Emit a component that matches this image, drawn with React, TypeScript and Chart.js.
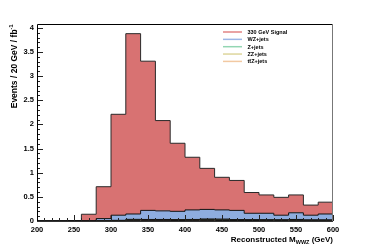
import React, { useEffect, useRef } from "react";
import { Chart, registerables } from "chart.js";

Chart.register(...registerables);

// Histogram bin edges (GeV), 20 GeV bins
const BIN_EDGES = [200, 220, 240, 260, 280, 300, 320, 340, 360, 380, 400, 420, 440, 460, 480, 500, 520, 540, 560, 580, 600];

// Per-bin contributions (events / 20 GeV / fb^-1), stacked bottom -> top: ttZ, ZZ, Z, WZ, signal
const SIGNAL_330 = [0, 0, 0.01, 0.14, 0.66, 2.09, 3.735, 3.09, 1.87, 1.41, 1.09, 0.85, 0.675, 0.62, 0.43, 0.38, 0.37, 0.37, 0.21, 0.245];
const WZ_JETS = [0, 0, 0, 0, 0.045, 0.108, 0.111, 0.188, 0.178, 0.17, 0.198, 0.198, 0.19, 0.192, 0.133, 0.134, 0.095, 0.138, 0.097, 0.122];
const Z_JETS = [0, 0, 0, 0, 0, 0, 0.008, 0.005, 0.005, 0.005, 0.006, 0.015, 0.015, 0.005, 0.005, 0.005, 0.005, 0.014, 0.005, 0.005];
const ZZ_JETS = [0, 0, 0, 0, 0, 0.004, 0.014, 0.015, 0.015, 0.014, 0.014, 0.015, 0.014, 0.013, 0.012, 0.012, 0.011, 0.01, 0.01, 0.01];
const TTZ_JETS = [0, 0, 0, 0, 0.005, 0.008, 0.012, 0.012, 0.012, 0.011, 0.012, 0.012, 0.011, 0.01, 0.01, 0.009, 0.009, 0.008, 0.008, 0.008];

const X_TICKS = [200, 250, 300, 350, 400, 450, 500, 550, 600];
const Y_TICKS = [0, 0.5, 1, 1.5, 2, 2.5, 3, 3.5, 4];

const LEGEND_LABELS = ["330 GeV Signal", "WZ+jets", "Z+jets", "ZZ+jets", "tt\u0304Z+jets"];
const LEGEND_COLORS = ["#e28484", "#9db6e6", "#93d6b3", "#ddd69c", "#f2c9a2"];

const FONT = '"Liberation Sans", Arial, sans-serif';

function toSteps(values: number[]) {
  return BIN_EDGES.map((x, i) => ({ x, y: values[Math.min(i, values.length - 1)] }));
}

const decorPlugin = {
  id: "decor",
  afterDatasetsDraw(chart: any) {
    const { ctx, chartArea } = chart;
    const { left, right, top, bottom } = chartArea;
    const xs = chart.scales.x;
    const ys = chart.scales.y;
    ctx.save();
    // ticks inside frame
    ctx.strokeStyle = "#222";
    ctx.lineWidth = 1;
    ctx.beginPath();
    for (let v = xs.min; v <= xs.max + 1e-6; v += 10) {
      const px = Math.round(xs.getPixelForValue(v)) + 0.5;
      const len = Math.abs(v % 50) < 1e-6 ? 6 : 3;
      ctx.moveTo(px, bottom);
      ctx.lineTo(px, bottom - len);
    }
    for (let k = 0; k <= 40; k++) {
      const v = k * 0.1;
      const py = Math.round(ys.getPixelForValue(v)) + 0.5;
      const len = k % 5 === 0 ? 6 : 3;
      ctx.moveTo(left, py);
      ctx.lineTo(left + len, py);
    }
    ctx.stroke();
    // frame
    ctx.strokeStyle = "#000";
    ctx.beginPath();
    ctx.moveTo(left + 0.5, bottom);
    ctx.lineTo(left + 0.5, top + 0.5);
    ctx.lineTo(right, top + 0.5);
    ctx.stroke();
    ctx.strokeStyle = "#777";
    ctx.beginPath();
    ctx.moveTo(right - 0.5, top);
    ctx.lineTo(right - 0.5, bottom);
    ctx.stroke();
    ctx.strokeStyle = "#333";
    ctx.beginPath();
    ctx.moveTo(left, bottom + 0.5);
    ctx.lineTo(right, bottom + 0.5);
    ctx.stroke();

    // legend
    ctx.font = `bold 5.5px ${FONT}`;
    ctx.textBaseline = "middle";
    ctx.textAlign = "left";
    LEGEND_LABELS.forEach((lab, i) => {
      const y = 32 + i * 7.35;
      ctx.strokeStyle = LEGEND_COLORS[i];
      ctx.lineWidth = 1.5;
      ctx.beginPath();
      ctx.moveTo(223, y);
      ctx.lineTo(242, y);
      ctx.stroke();
      ctx.fillStyle = "#000";
      ctx.fillText(lab, 247.5, y + 0.3);
    });

    // x title with subscript
    ctx.textBaseline = "alphabetic";
    const big = `bold 8px ${FONT}`;
    const small = `bold 5.5px ${FONT}`;
    const p1 = "Reconstructed M";
    const p2 = "WWZ";
    const p3 = " (GeV)";
    ctx.font = big;
    const w1 = ctx.measureText(p1).width;
    const w3 = ctx.measureText(p3).width;
    ctx.font = small;
    const w2 = ctx.measureText(p2).width;
    const x0 = right - (w1 + w2 + w3);
    const yb = 242;
    ctx.fillStyle = "#000";
    ctx.font = big;
    ctx.fillText(p1, x0, yb);
    ctx.font = small;
    ctx.fillText(p2, x0 + w1, yb + 2);
    ctx.font = big;
    ctx.fillText(p3, x0 + w1 + w2, yb);

    // y title with superscript
    const t1 = "Events / 20 GeV / fb";
    const t2 = "-1";
    const bigY = `bold 8.5px ${FONT}`;
    const smallY = `bold 5.5px ${FONT}`;
    ctx.font = bigY;
    const u1 = ctx.measureText(t1).width;
    ctx.font = smallY;
    const u2 = ctx.measureText(t2).width;
    ctx.translate(17, 24.5);
    ctx.rotate(-Math.PI / 2);
    ctx.font = bigY;
    ctx.fillText(t1, -(u1 + u2), 0);
    ctx.font = smallY;
    ctx.fillText(t2, -u2, -4);
    ctx.restore();
  },
};

export default function App() {
  const ref = useRef<HTMLCanvasElement>(null);
  useEffect(() => {
    const canvas = ref.current!;
    const series = [
      { label: "ttZ+jets", data: TTZ_JETS, bg: "#c9a27a", border: "#111" },
      { label: "ZZ+jets", data: ZZ_JETS, bg: "#b9a86e", border: "#111" },
      { label: "Z+jets", data: Z_JETS, bg: "#6ca886", border: "#111" },
      { label: "WZ+jets", data: WZ_JETS, bg: "#8eaddf", border: "#111" },
      { label: "330 GeV Signal", data: SIGNAL_330, bg: "#d87272", border: "#2a2a2a" },
    ];
    const chart = new Chart(canvas, {
      type: "line",
      data: {
        datasets: series.map((s, i) => ({
          label: s.label,
          data: toSteps(s.data),
          stepped: "before",
          fill: i === 0 ? "origin" : "-1",
          backgroundColor: s.bg,
          borderColor: s.border,
          borderWidth: 1,
          pointRadius: 0,
          tension: 0,
        })),
      },
      options: {
        responsive: false,
        animation: false,
        events: [],
        layout: { padding: { top: 24, right: 37, left: 0, bottom: 0 } },
        plugins: {
          legend: { display: false },
          tooltip: { enabled: false },
          filler: { propagate: false },
        },
        scales: {
          x: {
            type: "linear",
            min: 200,
            max: 600,
            afterBuildTicks: (s: any) => {
              s.ticks = X_TICKS.map((v) => ({ value: v }));
            },
            afterFit: (s: any) => {
              s.height = 27;
            },
            grid: { display: false, drawTicks: false },
            border: { display: false },
            ticks: {
              autoSkip: false,
              maxRotation: 0,
              padding: 4,
              color: "#000",
              font: { family: FONT, size: 7.5, weight: "bold" },
              callback: (v: any) => String(v),
            },
          },
          y: {
            type: "linear",
            stacked: true,
            min: 0,
            max: 4.08,
            afterBuildTicks: (s: any) => {
              s.ticks = Y_TICKS.map((v) => ({ value: v }));
            },
            afterFit: (s: any) => {
              s.width = 37;
            },
            grid: { display: false, drawTicks: false },
            border: { display: false },
            ticks: {
              padding: 3,
              color: "#000",
              font: { family: FONT, size: 7.5, weight: "bold" },
              callback: (v: any) => String(v),
            },
          },
        },
      },
      plugins: [decorPlugin],
    } as any);
    return () => chart.destroy();
  }, []);
  return (
    <div style={{ position: "absolute", left: 0, top: 0, width: 370, height: 248, background: "#fff" }}>
      <canvas ref={ref} width={370} height={248} style={{ width: 370, height: 248, display: "block" }} />
    </div>
  );
}
